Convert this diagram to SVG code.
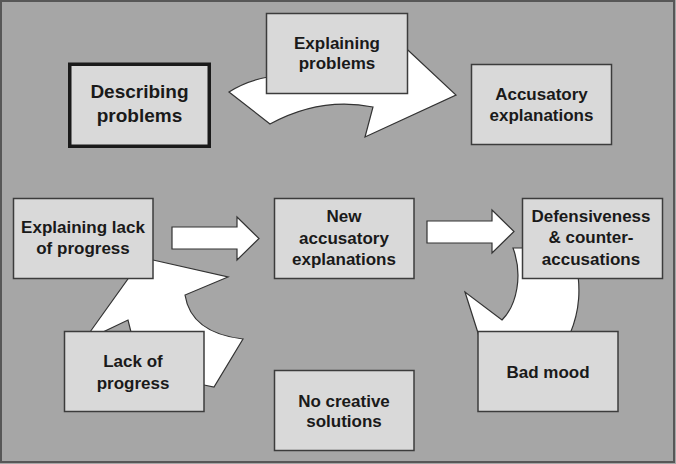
<svg xmlns="http://www.w3.org/2000/svg" width="676" height="464" viewBox="0 0 676 464">
<style>
.bg{fill:#a6a6a6}
.frame{fill:none;stroke:#575757;stroke-width:2}
.box{fill:#d9d9d9;stroke:#3c3c3c;stroke-width:1.5}
.thick{fill:#d9d9d9;stroke:#1a1a1a;stroke-width:3.5}
.arr{fill:#ffffff;stroke:#333333;stroke-width:1.2;stroke-linejoin:miter}
text{font-family:"Liberation Sans",Arial,sans-serif;font-weight:bold;font-size:17px;fill:#1a1a1a;text-anchor:middle}
.big{font-size:19px}
</style>
<rect class="bg" x="0" y="0" width="676" height="464"/>
<rect class="frame" x="1" y="1" width="673" height="461"/>
<g id="connectors">
<path class="arr" d="M229,92 Q246,81 268,77 L300,70 L395,38 L456,95 L365,137 L373,107 Q320.5,96.5 270,124 Z"/>
<path class="arr" d="M90,332 L140,262 L140,257 L153,260 L228,277 L185,295 Q191,333 243,339 L214,387 L204,385 L150,380 L134,344 L128,320 L103,332 L95,340 L86,337 Z"/>
<path class="arr" d="M513,248 L540,248 L576,262 C581,288 580,310 570,334 L520,370 L485,355 L465,292 L502,320 C517,305 523,275 513,248 Z"/>
<path class="arr" d="M172,227 L237,227 L237,217 L259,238.5 L237,260 L237,249 L172,249 Z"/>
<path class="arr" d="M427,221 L492,221 L492,210 L514,231.5 L492,253 L492,243 L427,243 Z"/>
</g>
<g id="describing-problems">
<rect class="thick" x="69.75" y="64.25" width="139.5" height="82"/>
<text class="big" x="139.5" y="98">Describing</text>
<text class="big" x="139.5" y="122">problems</text>
</g>
<g id="explaining-problems">
<rect class="box" x="266.5" y="13.5" width="141" height="80"/>
<text x="337" y="49">Explaining</text>
<text x="337" y="69">problems</text>
</g>
<g id="accusatory-explanations">
<rect class="box" x="471.5" y="64.5" width="140" height="80"/>
<text x="541.5" y="100">Accusatory</text>
<text x="541.5" y="121">explanations</text>
</g>
<g id="explaining-lack-of-progress">
<rect class="box" x="13.5" y="198.5" width="139.5" height="80"/>
<text x="83" y="233">Explaining lack</text>
<text x="83" y="254">of progress</text>
</g>
<g id="new-accusatory-explanations">
<rect class="box" x="274.5" y="198.5" width="139.5" height="80"/>
<text x="344" y="222">New</text>
<text x="344" y="244">accusatory</text>
<text x="344" y="265">explanations</text>
</g>
<g id="defensiveness">
<rect class="box" x="522.5" y="198.5" width="140" height="80"/>
<text x="591" y="222">Defensiveness</text>
<text x="591" y="243">&amp; counter-</text>
<text x="591" y="265">accusations</text>
</g>
<g id="lack-of-progress">
<rect class="box" x="64.5" y="331.5" width="139.5" height="80"/>
<text x="133" y="367">Lack of</text>
<text x="133" y="389">progress</text>
</g>
<g id="no-creative-solutions">
<rect class="box" x="274.5" y="370.5" width="139.5" height="80"/>
<text x="344" y="407">No creative</text>
<text x="344" y="427">solutions</text>
</g>
<g id="bad-mood">
<rect class="box" x="478" y="331.5" width="140" height="80"/>
<text x="548" y="378">Bad mood</text>
</g>
</svg>
